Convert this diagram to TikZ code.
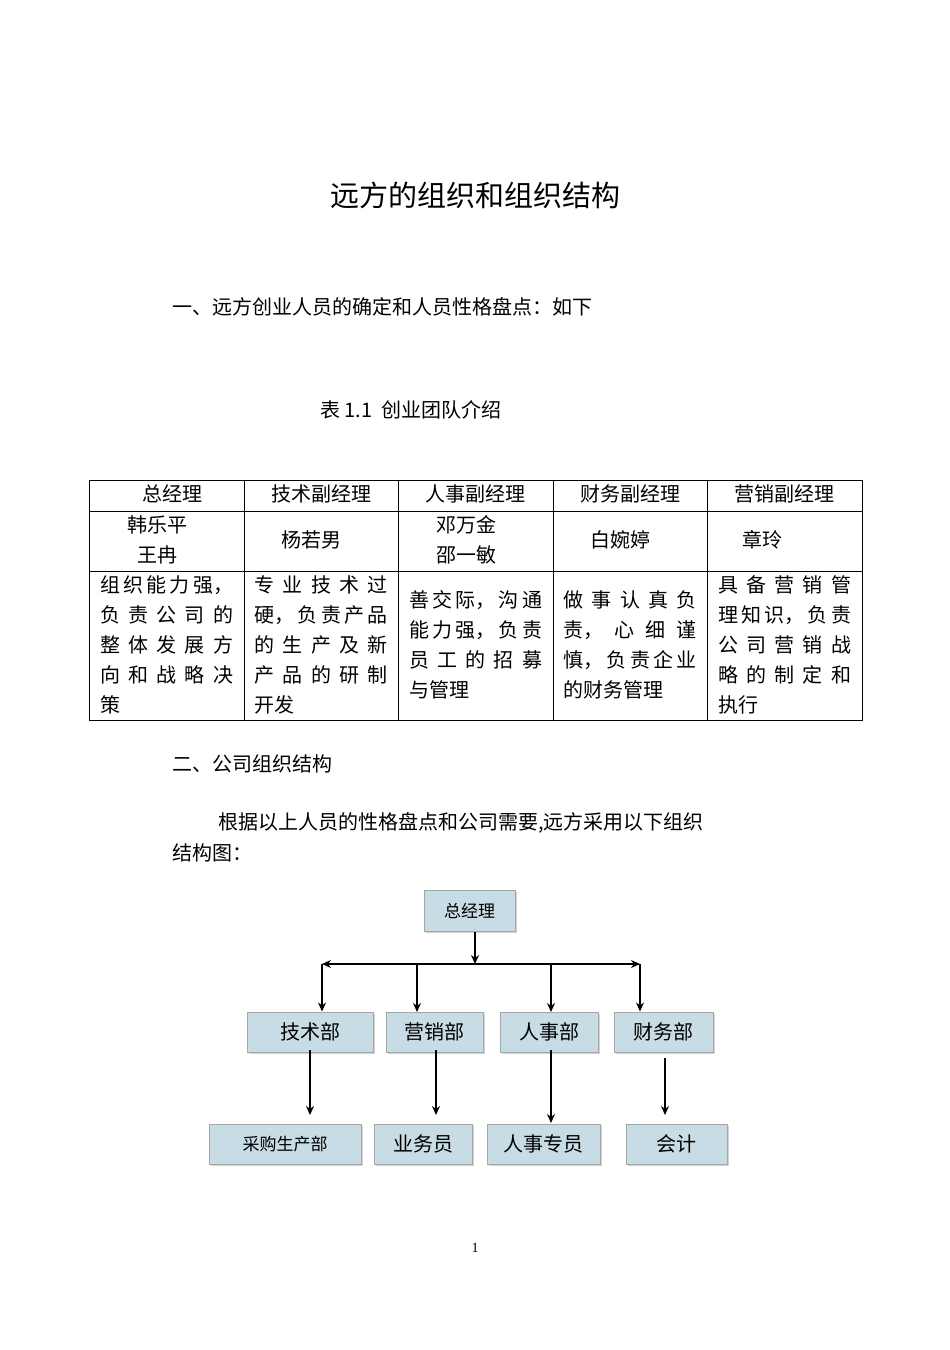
\documentclass[tikz,border=0pt]{standalone}
\usepackage{fontspec}
\setmainfont{Noto Sans CJK SC}
\newfontfamily\serifnum{Liberation Serif}
\usetikzlibrary{arrows.meta,shadows}
\newcommand{\zhbreak}{\XeTeXlinebreaklocale "zh"\XeTeXlinebreakskip=0pt plus 4pt\relax}
\tikzset{
  txt/.style={inner sep=0pt,font=\fontsize{20}{30}\selectfont},
  cell/.style={inner sep=0pt,text width=133pt,align=justify,font=\zhbreak\fontsize{20}{30}\selectfont},
  box/.style={draw=gray!70,line width=1pt,fill=cyan!10!teal!25!white,inner sep=0pt,font=\fontsize{20}{24}\selectfont,drop shadow={shadow xshift=1.5pt,shadow yshift=-1.5pt,fill=gray!70}},
  arr/.style={line width=1.6pt,-{Stealth[length=9pt,width=8pt]}}
}
\begin{document}
\begin{tikzpicture}[x=1pt,y=-1pt]
\useasboundingbox[fill=white] (0,0) rectangle (950,1350);
\node[txt,font=\fontsize{29}{32}\selectfont] (title) at (475,195) {远方的组织和组织结构};
\node[txt,anchor=west] (s1) at (172,307) {一、远方创业人员的确定和人员性格盘点：如下};
\node[txt,anchor=west] (cap) at (320,410) {表 1.1\ \ 创业团队介绍};
\draw[line width=0.8pt] (89,480) rectangle (862,720);
\foreach \y in {511,571} \draw[line width=0.8pt] (89,\y) -- (862,\y);
\foreach \x in {244,398,553,707} \draw[line width=0.8pt] (\x,480) -- (\x,720);
\node[txt] (h1) at (172,494) {总经理};
\node[txt] (h2) at (321,494) {技术副经理};
\node[txt] (h3) at (475,494) {人事副经理};
\node[txt] (h4) at (630,494) {财务副经理};
\node[txt] (h5) at (784,494) {营销副经理};
\node[txt,align=center] (n1) at (157,540) {韩乐平\\王冉};
\node[txt] (n2) at (311,540) {杨若男};
\node[txt,align=center] (n3) at (466,540) {邓万金\\邵一敏};
\node[txt] (n4) at (620,540) {白婉婷};
\node[txt] (n5) at (762,540) {章玲};
\node[cell] (d1) at (166.5,645) {组织能力强，\linebreak 负责公司的\linebreak 整体发展方\linebreak 向和战略决\linebreak 策};
\node[cell] (d2) at (321,645) {专业技术过\linebreak 硬，负责产品\linebreak 的生产及新\linebreak 产品的研制\linebreak 开发};
\node[cell] (d3) at (475.5,645) {善交际，沟通\linebreak 能力强，负责\linebreak 员工的招募\linebreak 与管理};
\node[cell] (d4) at (630,645) {做事认真负\linebreak 责， 心细谨\linebreak 慎，负责企业\linebreak 的财务管理};
\node[cell] (d5) at (784.5,645) {具备营销管\linebreak 理知识，负责\linebreak 公司营销战\linebreak 略的制定和\linebreak 执行};
\node[txt,anchor=west] (s2) at (172,764) {二、公司组织结构};
\node[txt,anchor=west] (p1) at (218,823) {根据以上人员的性格盘点和公司需要,远方采用以下组织};
\node[txt,anchor=west] (p2) at (172,853) {结构图：};
\node[box,minimum width=91pt,minimum height=41pt,font=\fontsize{17}{20}\selectfont] (gm) at (469.5,910.5) {总经理};
\node[box,minimum width=126pt,minimum height=40pt] (js) at (310,1032) {技术部};
\node[box,minimum width=97pt,minimum height=40pt] (yx) at (434.5,1032) {营销部};
\node[box,minimum width=98pt,minimum height=40pt] (rs) at (549,1032) {人事部};
\node[box,minimum width=99pt,minimum height=40pt] (cw) at (663.5,1032) {财务部};
\node[box,minimum width=152pt,minimum height=40pt,font=\fontsize{17}{20}\selectfont] (cg) at (285,1144) {采购生产部};
\node[box,minimum width=98pt,minimum height=40pt] (yw) at (423,1144) {业务员};
\node[box,minimum width=113pt,minimum height=40pt] (ry) at (543.5,1144) {人事专员};
\node[box,minimum width=101pt,minimum height=40pt] (kj) at (676.5,1144) {会计};
\coordinate (hm) at (475,964);
\coordinate (hl) at (322,964);
\coordinate (hr) at (640,964);
\draw[arr] (gm.south -| hm) -- (hm);
\draw[line width=1.6pt,{Stealth[length=9pt,width=8pt]}-{Stealth[length=9pt,width=8pt]}] (hl) -- (hr);
\draw[arr] (hl) -- (hl |- js.north);
\draw[arr] (417,964) -- (417,1012);
\draw[arr] (551,964) -- (551,1012);
\draw[arr] (hr) -- (hr |- cw.north);
\draw[arr] (310,1050) -- (310,1115);
\draw[arr] (436,1050) -- (436,1115);
\draw[arr] (551,1050) -- (551,1123);
\draw[arr] (665,1058) -- (665,1115);
\node[inner sep=0pt,font=\serifnum\fontsize{14}{16}\selectfont] (pg) at (475,1248) {1};
\end{tikzpicture}
\end{document}
